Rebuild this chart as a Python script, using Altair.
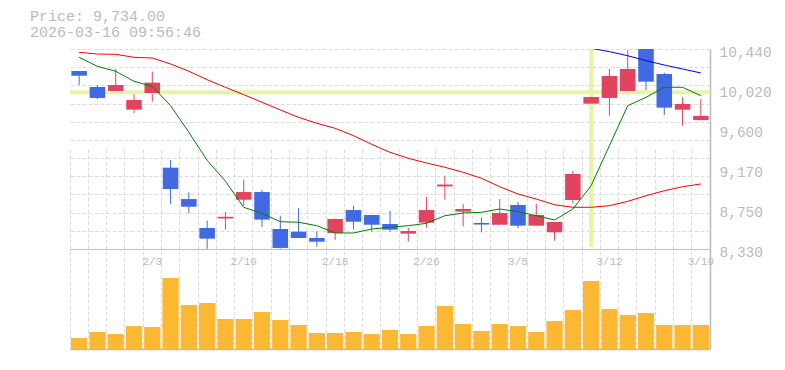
import altair as alt
import pandas as pd
import numpy as np

# ---------------- data ----------------
dates = ["1/28", "1/29", "1/30", "2/2", "2/3", "2/4", "2/5", "2/6", "2/9", "2/10",
         "2/12", "2/13", "2/16", "2/17", "2/18", "2/19", "2/20", "2/24", "2/25", "2/26",
         "2/27", "3/2", "3/3", "3/4", "3/5", "3/6", "3/9", "3/10", "3/11", "3/12",
         "3/13", "3/16", "3/17", "3/18", "3/19"]
opens = [10208, 10039, 9997, 9800, 9976, 9188, 8857, 8552, 8652, 8850,
         8931, 8541, 8513, 8446, 8499, 8741, 8689, 8594, 8492, 8608,
         8990, 8724, 8605, 8586, 8794, 8576, 8506, 8847, 9863, 9923,
         9997, 10470, 10176, 9800, 9690]
highs = [10208, 10060, 10229, 9990, 10201, 9269, 8928, 8629, 8720, 9061,
         8952, 8681, 8763, 8517, 8650, 8787, 8689, 8731, 8555, 8879,
         9103, 8805, 8664, 8857, 8826, 8805, 8615, 9153, 10095, 10229,
         10429, 10480, 10190, 9930, 9912]
lows = [10060, 9912, 9965, 9765, 9884, 8808, 8707, 8332, 8534, 8787,
        8565, 8335, 8446, 8354, 8428, 8534, 8513, 8513, 8407, 8555,
        8850, 8569, 8506, 8586, 8548, 8576, 8418, 8812, 9596, 9737,
        9958, 9990, 9744, 9631, 9690]
closes = [10158, 9923, 10060, 9902, 10085, 8963, 8776, 8439, 8670, 8931,
          8640, 8341, 8446, 8407, 8647, 8618, 8586, 8534, 8520, 8741,
          9010, 8752, 8588, 8710, 8576, 8689, 8615, 9121, 9934, 10155,
          10229, 10095, 9821, 9860, 9734]
volumes = [330, 510, 450, 690, 660, 2130, 1320, 1380, 900, 900,
           1110, 870, 720, 480, 480, 510, 450, 570, 450, 690,
           1290, 750, 540, 750, 690, 510, 840, 1170, 2040, 1200,
           1020, 1080, 720, 720, 720]
ma_short = [10352, 10257, 10205, 10099, 10046, 9842, 9561, 9265, 9045, 8770,
            8705, 8618, 8612, 8576, 8499, 8499, 8541, 8559, 8576, 8601,
            8681, 8710, 8717, 8752, 8724, 8681, 8636, 8752, 8998, 9420,
            9842, 9930, 10036, 10036, 9947]
ma_mid = [10405, 10387, 10384, 10352, 10345, 10282, 10205, 10116, 10036, 9958,
          9878, 9797, 9719, 9656, 9603, 9526, 9434, 9350, 9287, 9237,
          9192, 9139, 9076, 8987, 8910, 8857, 8797, 8770, 8770, 8787,
          8833, 8892, 8945, 8987, 9016]
ma_long_dates = ["3/11", "3/12", "3/13", "3/16", "3/17", "3/18", "3/19"]
ma_long = [10447, 10412, 10369, 10317, 10271, 10229, 10187]

x_label_dates = ["2/3", "2/10", "2/18", "2/26", "3/5", "3/12", "3/19"]
price_tick_labels = ["8,330", "8,750", "9,170", "9,600", "10,020", "10,440"]
price_min, price_max = 8330, 10440
vol_max = 3000
cross_date = "3/11"
cross_price = 9983
header_lines = ["Price: 9,734.00", "2026-03-16 09:56:46"]

# ---------------- tables ----------------
df = pd.DataFrame({"date": dates, "open": opens, "high": highs, "low": lows,
                   "close": closes, "volume": volumes,
                   "ma_short": ma_short, "ma_mid": ma_mid})
df["dir"] = np.where(df["close"] >= df["open"], "up", "down")
df_long = pd.DataFrame({"date": ma_long_dates, "ma_long": ma_long})
df_cross = pd.DataFrame({"date": [cross_date], "price": [cross_price],
                         "top": [price_max], "bottom": [price_min + 20]})

price_tick_values = [float(v) for v in np.linspace(price_min, price_max, len(price_tick_labels))]
grid_values = [float(v) for v in np.linspace(price_min, price_max, 12)]
label_expr = " : ".join(
    f"abs(datum.value - {v}) < 1 ? '{lab}'" for v, lab in zip(price_tick_values, price_tick_labels)
) + " : ''"

W, H = 640, 300
PRICE_H = 200
FONT = "Liberation Mono"
GRAY = "#bbbbbb"
GRID = "#dddddd"
RED = "#e2445f"
BLUE = "#4169e1"
ORANGE = "#fdb833"

xscale = alt.Scale(type="band", domain=dates, paddingInner=0, paddingOuter=0)
pscale = alt.Scale(domain=[price_min, price_max], range=[PRICE_H, 0], zero=False, nice=False)
vscale = alt.Scale(domain=[0, vol_max], range=[H, PRICE_H], nice=False)
cscale = alt.Scale(domain=["up", "down"], range=[RED, BLUE])

base = alt.Chart(df)

# crosshair
cross_h = alt.Chart(df_cross).mark_rule(color="#e4f5a8", strokeWidth=4, clip=True).encode(
    y=alt.Y("price:Q", scale=pscale, axis=None))
cross_v = alt.Chart(df_cross).mark_rule(color="#e4f5a8", strokeWidth=4, clip=True).encode(
    x=alt.X("date:O", scale=xscale, axis=None),
    y=alt.Y("top:Q", scale=pscale, axis=None), y2="bottom:Q")

# wicks + grid axes
wicks = base.mark_rule(strokeWidth=1, clip=True).encode(
    x=alt.X("date:O", scale=xscale, title=None,
            axis=alt.Axis(orient="bottom", grid=True, gridDash=[4, 2], gridColor=GRID,
                          gridWidth=1, labels=False, ticks=False, domain=True,
                          domainColor=GRAY, domainWidth=1.5, bandPosition=0)),
    y=alt.Y("low:Q", scale=pscale, title=None,
            axis=alt.Axis(orient="left", values=grid_values, grid=True, gridDash=[4, 2],
                          gridColor=GRID, gridWidth=1, labels=False, ticks=False,
                          domain=False)),
    y2="high:Q",
    color=alt.Color("dir:N", scale=cscale, legend=None))

bodies = base.mark_bar(width={"band": 0.85}, clip=True).encode(
    x=alt.X("date:O", scale=xscale, title=None,
            axis=alt.Axis(orient="bottom", offset=PRICE_H - H, values=x_label_dates,
                          grid=False, ticks=False, labelAngle=0, labelFont=FONT,
                          labelFontSize=11, labelColor=GRAY, labelPadding=6,
                          domain=True, domainColor=GRAY, domainWidth=1, bandPosition=0.5)),
    y=alt.Y("open:Q", scale=pscale, title=None,
            axis=alt.Axis(orient="right", values=price_tick_values, labelExpr=label_expr,
                          grid=False, ticks=False, domain=True, domainColor=GRAY,
                          domainWidth=1.5, labelFont=FONT, labelFontSize=14.5,
                          labelColor=GRAY, labelPadding=9, labelFlush=False,
                          labelOffset=3, labelOverlap=False)),
    y2="close:Q",
    color=alt.Color("dir:N", scale=cscale, legend=None))

vol = base.mark_bar(width={"band": 0.89}, color=ORANGE).encode(
    x=alt.X("date:O", scale=xscale, axis=None),
    y=alt.Y("volume:Q", scale=vscale, title=None,
            axis=alt.Axis(orient="right", labels=False, ticks=False, grid=False,
                          domain=True, domainColor=GRAY, domainWidth=1.5)))

line_mid = base.mark_line(color="#ff0000", strokeWidth=1, clip=True).encode(
    x=alt.X("date:O", scale=xscale, axis=None),
    y=alt.Y("ma_mid:Q", scale=pscale, axis=None))
line_short = base.mark_line(color="#008000", strokeWidth=1, clip=True).encode(
    x=alt.X("date:O", scale=xscale, axis=None),
    y=alt.Y("ma_short:Q", scale=pscale, axis=None))
line_long = alt.Chart(df_long).mark_line(color="#0000ff", strokeWidth=1, clip=True).encode(
    x=alt.X("date:O", scale=xscale, axis=None),
    y=alt.Y("ma_long:Q", scale=pscale, axis=None))

chart = alt.layer(
    wicks, cross_h, cross_v, bodies, vol, line_mid, line_short, line_long
).resolve_scale(y="independent").resolve_axis(x="independent", y="independent").properties(
    width=W, height=H,
    padding={"left": 22, "top": 1, "right": 5, "bottom": 5},
    title=alt.TitleParams(text=header_lines, anchor="start", dx=-40, font=FONT,
                          fontSize=15, fontWeight="normal", color=GRAY,
                          lineHeight=16, offset=4),
).configure_view(stroke=None)

chart.save("out.html", embed_options={"renderer": "svg", "actions": False})
